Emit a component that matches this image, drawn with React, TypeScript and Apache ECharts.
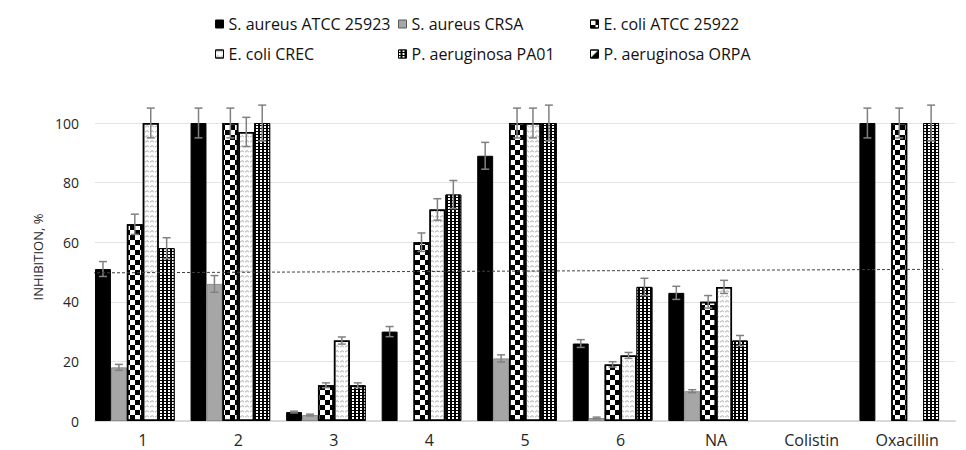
import React, { useEffect, useRef } from 'react';
import * as echarts from 'echarts';

const categories = ['1', '2', '3', '4', '5', '6', 'NA', 'Colistin', 'Oxacillin'];
const seriesNames = [
  'S. aureus ATCC 25923',
  'S. aureus CRSA',
  'E. coli ATCC 25922',
  'E. coli CREC',
  'P. aeruginosa PA01',
  'P. aeruginosa ORPA',
];
const saATCC = [51, 100, 3, 30, 89, 26, 43, null, 100];
const saCRSA = [18, 46, 2, null, 21, 1, 10, null, null];
const ecATCC = [66, 100, 12, 60, 100, 19, 40, null, 100];
const ecCREC = [100, 97, 27, 71, 100, 22, 45, null, null];
const paPA01 = [58, 100, 12, 76, 100, 45, 27, null, 100];
const paORPA = [null, null, null, null, null, null, null, null, null];

const saATCCErr = [2.5, 5, 0.3, 1.7, 4.5, 1.3, 2.2, 0, 5];
const saCRSAErr = [1, 2.8, 0.3, 0, 1.2, 0.3, 0.5, 0, 0];
const ecATCCErr = [3.4, 5, 0.8, 3.1, 5, 0.9, 2.1, 0, 5];
const ecCRECErr = [5, 4.9, 1.2, 3.6, 5, 1, 2.2, 0, 0];
const paPA01Err = [3.5, 6, 0.8, 4.7, 6, 2.9, 1.7, 0, 6];
const paORPAErr = [0, 0, 0, 0, 0, 0, 0, 0, 0];

// threshold dashed line: [relative x along plot, inhibition %]
const thresholdLine = [
  [-0.0093, 49.7],
  [0.986, 50.9],
];

const FONT = '"Open Sans", sans-serif';

export default function App() {
  const ref = useRef<HTMLDivElement>(null);
  useEffect(() => {
    if (!ref.current) return;
    const chart = echarts.init(ref.current, undefined, { renderer: 'svg' });
    const values = [saATCC, saCRSA, ecATCC, ecCREC, paPA01, paORPA];
    const errs = [saATCCErr, saCRSAErr, ecATCCErr, ecCRECErr, paPA01Err, paORPAErr];

    const styles: any[] = [
      { color: '#000000', borderColor: '#000000', borderWidth: 1 },
      { color: '#a6a6a6', borderColor: '#8c8c8c', borderWidth: 1 },
      {
        color: '#ffffff',
        borderColor: '#000000',
        borderWidth: 1.5,
        decal: {
          symbol: 'rect',
          symbolSize: 1,
          color: '#000000',
          dashArrayX: [
            [5, 5],
            [0, 5, 5, 0],
          ],
          dashArrayY: [5, 0],
          rotation: 0,
        },
      },
      {
        color: '#ffffff',
        borderColor: '#000000',
        borderWidth: 1.5,
        decal: {
          symbol:
            'path://M0,2 C1.5,0 3,0 4,2 L4,3 C3,1 1.5,1 0,3 Z',
          symbolSize: 1,
          color: '#a8a8a8',
          dashArrayX: [4, 1],
          dashArrayY: [3, 2],
          rotation: 0,
        },
      },
      {
        color: '#000000',
        borderColor: '#000000',
        borderWidth: 1,
        decal: {
          symbol: 'rect',
          symbolSize: 1,
          color: '#ffffff',
          dashArrayX: [2, 2],
          dashArrayY: [2, 1],
          rotation: 0,
        },
      },
      {
        color: '#ffffff',
        borderColor: '#000000',
        borderWidth: 1,
        decal: {
          symbol: 'path://M10,0 L10,10 L0,10 Z',
          symbolSize: 1,
          color: '#000000',
          dashArrayX: [8, 0],
          dashArrayY: [8, 0],
          rotation: 0,
        },
      },
    ];

    const barSeries = seriesNames.map((name, i) => ({
      name,
      type: 'bar',
      data: values[i].map((v) => (v === null ? '-' : v)),
      barGap: '0%',
      barCategoryGap: '0%',
      itemStyle: styles[i],
      emphasis: { disabled: true },
    }));

    const errData: any[] = [];
    values.forEach((arr, s) => {
      arr.forEach((v, c) => {
        const e = errs[s][c];
        if (v !== null && e > 0) errData.push([c, s, v - e, v + e]);
      });
    });

    const errSeries = {
      type: 'custom',
      name: 'errors',
      data: errData,
      clip: false,
      z: 5,
      silent: true,
      encode: { x: 0, y: [2, 3] },
      renderItem: (params: any, api: any) => {
        const c = api.value(0);
        const s = api.value(1);
        const lo = api.coord([c, api.value(2)]);
        const hi = api.coord([c, api.value(3)]);
        const band = api.size([1, 0])[0];
        const slot = band / 6;
        const x = lo[0] - band / 2 + slot * (s + 0.5);
        const cap = 4;
        const st = { stroke: '#808080', lineWidth: 1.5 };
        return {
          type: 'group',
          children: [
            { type: 'line', shape: { x1: x, y1: lo[1], x2: x, y2: hi[1] }, style: st },
            { type: 'line', shape: { x1: x - cap, y1: lo[1], x2: x + cap, y2: lo[1] }, style: st },
            { type: 'line', shape: { x1: x - cap, y1: hi[1], x2: x + cap, y2: hi[1] }, style: st },
          ],
        };
      },
    };

    const lineSeries = {
      type: 'line',
      name: 'threshold',
      xAxisIndex: 1,
      yAxisIndex: 0,
      data: thresholdLine,
      symbol: 'none',
      clip: false,
      silent: true,
      z: 6,
      lineStyle: { color: '#404040', width: 1, type: [3, 2] },
    };

    const legendCols = [215, 398, 590];
    const legendRows = [16, 46];
    const legends = seriesNames.map((name, i) => ({
      data: [name],
      left: legendCols[i % 3],
      top: legendRows[Math.floor(i / 3)],
      padding: 0,
      itemWidth: 8,
      itemHeight: 8,
      icon: 'rect',
      selectedMode: false,
      itemStyle: { borderColor: i === 1 ? '#595959' : '#000000', borderWidth: 1 },
      textStyle: { fontFamily: FONT, fontSize: 16, color: '#111111', padding: [0, 0, 0, 0] },
    }));

    chart.setOption({
      animation: false,
      legend: legends,
      grid: { left: 95, right: 11, top: 123, bottom: 29, containLabel: false },
      xAxis: [
        {
          type: 'category',
          data: categories,
          axisTick: { show: false },
          axisLine: { lineStyle: { color: '#d9d9d9', width: 2 } },
          axisLabel: { fontFamily: FONT, fontSize: 16, color: '#262626', margin: 11 },
        },
        { type: 'value', min: 0, max: 1, show: false },
      ],
      yAxis: {
        type: 'value',
        min: 0,
        max: 100,
        interval: 20,
        name: 'INHIBITION, %',
        nameLocation: 'middle',
        nameGap: 46,
        nameTextStyle: { fontFamily: FONT, fontSize: 13, color: '#262626', padding: [0, 0, 0, 30] },
        axisLine: { show: false },
        axisTick: { show: false },
        splitLine: { lineStyle: { color: '#e3e3e3', width: 1 } },
        axisLabel: { fontFamily: FONT, fontSize: 14, color: '#262626', margin: 16 },
      },
      series: [...barSeries, errSeries, lineSeries],
    });
    return () => chart.dispose();
  }, []);
  return (
    <div
      ref={ref}
      style={{ position: 'absolute', left: 0, top: 0, width: 966, height: 450, background: '#ffffff' }}
    />
  );
}
